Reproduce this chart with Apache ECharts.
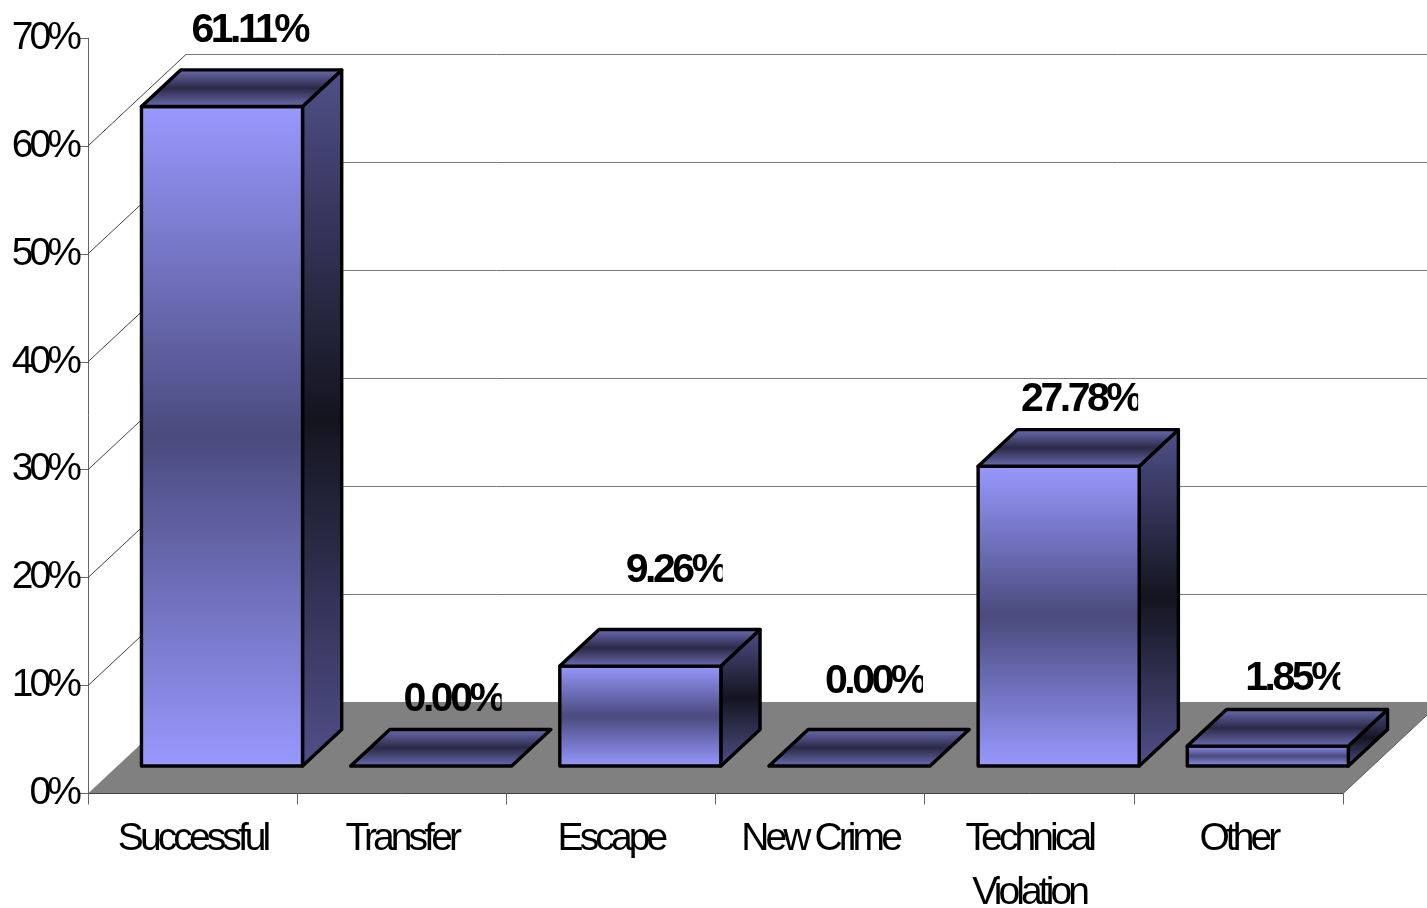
<!DOCTYPE html>
<html><head><meta charset="utf-8">
<style>html,body{margin:0;padding:0;background:#fff}#c{width:1427px;height:908px}</style>
<script src="https://cdn.jsdelivr.net/npm/echarts@6/dist/echarts.min.js"></script>
</head><body><div id="c"></div>
<script>
// Tight tracking of the original's text
const origFill = CanvasRenderingContext2D.prototype.fillText;
CanvasRenderingContext2D.prototype.fillText = function (t, x, y, m) {
  const px = parseFloat((this.font.match(/([\d.]+)px/) || [0, 0])[1]);
  this.letterSpacing = (px * (/bold|700/.test(this.font) ? -0.085 : -0.1)) + 'px';
  return m === undefined ? origFill.call(this, t, x, y) : origFill.call(this, t, x, y, m);
};

const categories = ['Successful', 'Transfer', 'Escape', 'New Crime', 'Technical\nViolation', 'Other'];
const values = [61.11, 0, 9.26, 0, 27.78, 1.85];
const valueLabels = ['61.11%', '0.00%', '9.26%', '0.00%', '27.78%', '1.85%'];
const wallTicks = [0, 10, 20, 30, 40, 50, 60];

// layout of the fake 3D projection (pixels)
const DX = 98, DY = 91.5, NEAR = 0.3, FAR = 0.7, BAR_W = 0.77;
const labelShiftX = [50, 53, 66, 56, 43, 58];
const labelLift = [39.5, 30, 59, 48, 30, 31];
const labelClipW = [118, 98, 97, 98, 117, 95];

const grad = (a, b) => new echarts.graphic.LinearGradient(0, 0, 0, 1, [
  { offset: 0, color: a }, { offset: 0.5, color: b }, { offset: 1, color: a }]);

const chart = echarts.init(document.getElementById('c'), null, { renderer: 'canvas' });
const FONT = '"Liberation Sans", Arial, sans-serif';

function renderWall(params, api) {
  const v = api.value(0);
  const y = api.coord([0, v])[1];
  const xs = params.coordSys;
  const left = xs.x, right = xs.x + xs.width;
  const back = Math.round(y - DY) + 0.5;
  const kids = [];
  if (v === 0) {
    kids.push({ type: 'polygon', shape: { points: [[left, y], [right, y], [right + DX, y - DY], [left + DX, y - DY]] },
      style: { fill: '#808080' } });
    kids.push({ type: 'line', shape: { x1: right, y1: y, x2: right + DX, y2: y - DY },
      style: { stroke: '#5a5a5a', lineWidth: 1 } });
  } else {
    kids.push({ type: 'line', shape: { x1: left, y1: y, x2: left + DX, y2: y - DY },
      style: { stroke: '#444', lineWidth: 1 } });
    kids.push({ type: 'line', shape: { x1: left + DX, y1: back, x2: right + DX, y2: back },
      style: { stroke: '#777', lineWidth: 1 } });
  }
  return { type: 'group', children: kids };
}

function renderBar(params, api) {
  const i = api.value(0), v = api.value(1);
  const base = api.coord([i, 0]), top = api.coord([i, v]);
  const band = api.size([1, 0])[0];
  const w = band * BAR_W;
  const x0 = base[0] - w / 2 + DX * NEAR, x1 = x0 + w;
  const y0 = base[1] - DY * NEAR, y1 = top[1] - DY * NEAR;
  const ox = DX * (FAR - NEAR), oy = DY * (FAR - NEAR);
  const s = { stroke: '#000', lineWidth: 3.4, lineJoin: 'round' };
  const kids = [];
  if (v > 0) {
    kids.push({ type: 'polygon', shape: { points: [[x1, y0], [x1 + ox, y0 - oy], [x1 + ox, y1 - oy], [x1, y1]] },
      style: Object.assign({ fill: grad('#50508a', '#14141f') }, s) });
    kids.push({ type: 'polygon', shape: { points: [[x0, y0], [x1, y0], [x1, y1], [x0, y1]] },
      style: Object.assign({ fill: grad('#9999ff', '#4a4a7e') }, s) });
  }
  kids.push({ type: 'polygon', shape: { points: [[x0, y1], [x1, y1], [x1 + ox, y1 - oy], [x0 + ox, y1 - oy]] },
    style: Object.assign({ fill: grad('#7070bb', '#2a2a46') }, s) });
  const lx = x0 + labelShiftX[i], ly = y1 - oy - labelLift[i];
  kids.push({ type: 'text', style: { x: lx, y: ly, text: valueLabels[i], fill: '#000',
      font: 'bold 41px ' + FONT, textAlign: 'left', textVerticalAlign: 'middle' },
    clipPath: { type: 'rect', shape: { x: lx, y: ly - 30, width: labelClipW[i], height: 60 } } });
  return { type: 'group', children: kids };
}

chart.setOption({
  animation: false,
  backgroundColor: '#fff',
  grid: { left: 88, right: 84, top: 38, bottom: 114.5, containLabel: false, outerBoundsMode: 'none' },
  xAxis: { type: 'category', data: categories, boundaryGap: true,
    axisLine: { show: true, lineStyle: { color: '#000', width: 1 } },
    axisTick: { show: true, length: 11, alignWithLabel: false, lineStyle: { color: '#666' } },
    axisLabel: { fontFamily: FONT, fontSize: 39, color: '#000', margin: 19, lineHeight: 54, interval: 0, hideOverlap: false } },
  yAxis: { type: 'value', min: 0, max: 70, interval: 10,
    axisLine: { show: true, lineStyle: { color: '#666', width: 1 } },
    axisTick: { show: true, length: 8, lineStyle: { color: '#666' } },
    splitLine: { show: false },
    axisLabel: { fontFamily: FONT, fontSize: 39, color: '#000', margin: 10, formatter: '{value}%' } },
  series: [
    { type: 'custom', renderItem: renderWall, clip: false, silent: true, z: 1, encode: { y: 0 },
      data: wallTicks.map(v => [v]) },
    { type: 'custom', renderItem: renderBar, clip: false, silent: true, z: 3, encode: { x: 0, y: 1 },
      data: values.map((v, i) => [i, v]) }
  ]
});
</script></body></html>
